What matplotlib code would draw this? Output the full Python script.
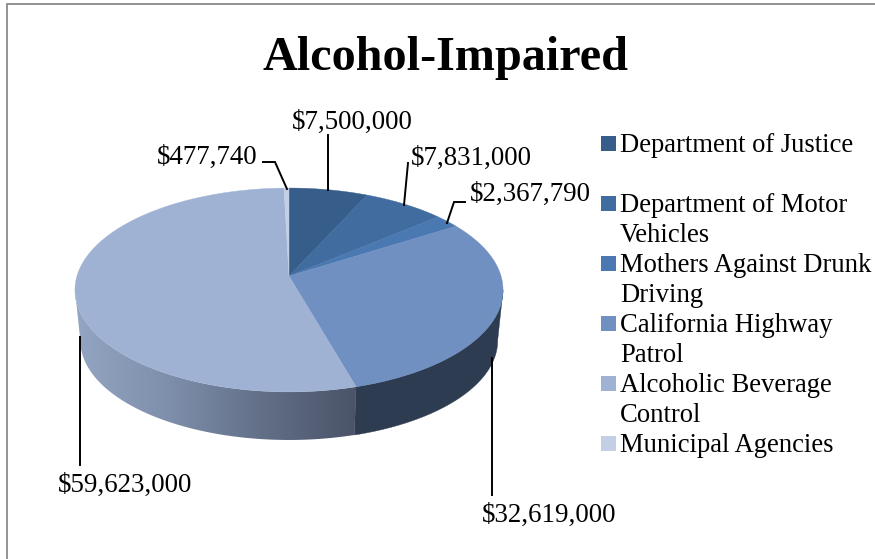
import numpy as np
import matplotlib
matplotlib.use('Agg')
import matplotlib.pyplot as plt
from matplotlib.colors import LinearSegmentedColormap
from matplotlib.patches import Polygon, Rectangle

plt.rcParams['font.family'] = ['Liberation Serif', 'DejaVu Serif']

# dados
agencies = ['Department of Justice', 'Department of Motor\nVehicles', 'Mothers Against Drunk\nDriving',
            'California Highway\nPatrol', 'Alcoholic Beverage\nControl', 'Municipal Agencies']
funding = [7500000, 7831000, 2367790, 32619000, 59623000, 477740]
top_colors = ['#375d8a', '#406c9f', '#4a78b0', '#7090c2', '#9fb2d3', '#c3cfe4']
chart_title = 'Alcohol-Impaired'

# geometria da pizza em pixels (perspectiva simples)
CX, CY = 289, 276
A, B, K = 212, 100, 0.137
DEPTH, SHRINK = 51, 0.975
# angulos onde o contorno lateral da pizza fica tangente
SIDE_RIGHT = 90 + np.degrees(np.arcsin(K))
SIDE_LEFT = 270 - np.degrees(np.arcsin(K))


def project(theta, scale=1.0, drop=0.0):
    # theta em graus, sentido horario a partir do topo
    t = np.radians(theta)
    u, v = np.sin(t), np.cos(t)
    w = 1 + K * v
    return CX + scale * A * u / w, CY - scale * B * v / w + drop


def wedge_points(start, end):
    th = np.linspace(start, end, max(int(end - start) * 3, 4))
    x, y = project(th)
    return np.column_stack([np.r_[CX, x], np.r_[CY, y]])


def wall_points(start, end):
    th = np.linspace(start, end, max(int(end - start) * 3, 4))
    x1, y1 = project(th)
    x2, y2 = project(th[::-1], SHRINK, DEPTH)
    return np.column_stack([np.r_[x1, x2], np.r_[y1, y2]])


fig = plt.figure(figsize=(8.75, 5.59), dpi=100)
ax = fig.add_axes([0, 0, 1, 1])
ax.set_xlim(0, 875)
ax.set_ylim(559, 0)
ax.axis('off')

# moldura do grafico
ax.plot([6.8, 6.8, 875], [559, 4, 4], color='#8a8a8a', lw=1.3, solid_joinstyle='miter')

ax.text(445, 70, chart_title, fontsize=34.7, fontweight='bold', ha='center', va='baseline', color='black')

edges = np.r_[0, np.cumsum(funding)] / np.sum(funding) * 360

# parede lateral: California Highway Patrol (escura) e Alcoholic Beverage (degrade)
ax.add_patch(Polygon(wall_points(SIDE_RIGHT, edges[4]), closed=True, fc='#2e3c52', ec='#2e3c52', lw=0.3, zorder=2))

grad = LinearSegmentedColormap.from_list('parede', ['#93a5c2', '#7e8fab', '#626f87', '#4a5368'])
img = ax.imshow(np.linspace(0, 1, 256).reshape(1, -1), cmap=grad, aspect='auto',
                extent=(75, project(edges[4])[0], 450, 280), zorder=2)
wall_light = Polygon(wall_points(edges[4], SIDE_LEFT), closed=True, transform=ax.transData, fc='none', ec='none')
ax.add_patch(wall_light)
img.set_clip_path(wall_light)
ax.set_xlim(0, 875)
ax.set_ylim(559, 0)

# topo da pizza
for i in range(len(funding)):
    ax.add_patch(Polygon(wedge_points(edges[i], edges[i + 1]), closed=True, fc=top_colors[i],
                         ec=top_colors[i], lw=0.3, zorder=3))

# rotulos e linhas de chamada
labels = ['$%s' % format(v, ',') for v in funding]
label_pos = [(352, 129), (471, 165), (530, 201), (549, 522), (125, 492), (207, 164)]
leaders = [
    ([328, 328], [135, 190]),
    ([408, 404], [163, 205]),
    ([465, 454, 447], [202, 202, 223]),
    ([492, 492], [358, 495]),
    ([80, 80], [337, 465]),
    ([263, 275, 287], [162, 162, 189]),
]
for text, pos, line in zip(labels, label_pos, leaders):
    ax.plot(line[0], line[1], color='black', lw=1.4, zorder=4, solid_joinstyle='miter')
    ax.text(pos[0], pos[1], text, fontsize=19.4, ha='center', va='baseline', color='black', zorder=5)

# legenda
legend_base = [152, 212, 272, 332, 392, 452]
for name, color, base in zip(agencies, top_colors, legend_base):
    ax.add_patch(Rectangle((601, base - 16), 14.5, 14.5, fc=color, ec='none'))
    for j, part in enumerate(name.split('\n')):
        ax.text(620, base + 30 * j, part, fontsize=19.2, ha='left', va='baseline', color='black')

fig.savefig('out.png', dpi=100)
